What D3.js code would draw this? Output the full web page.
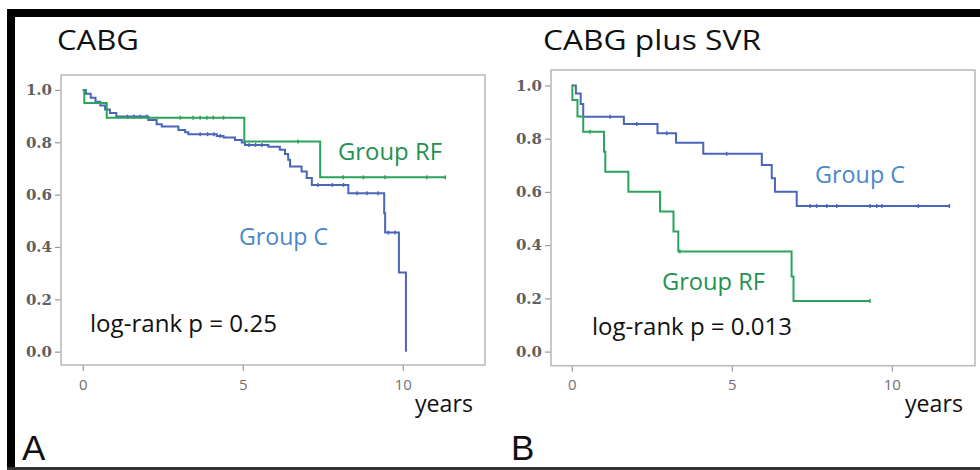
<!DOCTYPE html>
<html>
<head>
<meta charset="utf-8">
<script src="https://cdn.jsdelivr.net/npm/d3@7"></script>
<style>
  body { margin: 0; background: #fff; }
  svg { display: block; }
</style>
</head>
<body>
<svg id="chart" width="980" height="470"></svg>
<script>
// ---- data ----
const yTicks = [0, 0.2, 0.4, 0.6, 0.8, 1.0]
const xTicks = [0, 5, 10]

// panel A, CABG
const aC_time = [0, 0.1, 0.25, 0.4, 0.55, 0.7, 0.85, 1.05, 2.05, 2.31, 2.47, 2.99, 3.2, 3.3, 4.19, 4.4, 4.76, 4.97, 5.07, 5.8, 6.16, 6.32, 6.42, 6.48, 6.84, 7.0, 7.16, 8.3, 9.42, 9.45, 9.88, 10.1]
const aC_surv = [1.0, 0.985, 0.97, 0.955, 0.94, 0.925, 0.912, 0.898, 0.885, 0.869, 0.86, 0.847, 0.838, 0.831, 0.824, 0.818, 0.809, 0.799, 0.79, 0.783, 0.771, 0.755, 0.733, 0.707, 0.688, 0.663, 0.637, 0.605, 0.529, 0.455, 0.302, 0.0]
const aC_end = 10.1
const aC_censor = [1.4, 1.6, 1.8, 2.0, 3.67, 3.9, 4.1, 4.3, 5.2, 5.4, 5.6, 7.35, 7.8, 8.15, 8.57, 8.88, 9.23, 9.55, 9.76]

const aRF_time = [0, 0.05, 0.75, 5.05, 7.42]
const aRF_surv = [1.0, 0.95, 0.894, 0.803, 0.666]
const aRF_end = 11.33
const aRF_censor = [3.05, 3.45, 3.67, 3.88, 4.08, 4.4, 6.73, 8.14, 8.77, 9.45, 10.75, 11.33]

// panel B, CABG plus SVR
const bC_time = [0, 0.13, 0.28, 0.36, 1.63, 2.68, 3.26, 4.11, 5.94, 6.25, 6.35, 7.03]
const bC_surv = [1.0, 0.97, 0.93, 0.882, 0.855, 0.82, 0.785, 0.743, 0.701, 0.651, 0.601, 0.547]
const bC_end = 11.8
const bC_censor = [1.2, 2.03, 2.97, 4.84, 7.45, 7.65, 7.97, 8.28, 9.32, 9.53, 9.69, 10.83, 11.8]

const bRF_time = [0, 0.02, 0.18, 0.36, 1.01, 1.05, 1.77, 2.76, 3.18, 3.33, 6.87, 6.93]
const bRF_surv = [1.0, 0.945, 0.883, 0.826, 0.751, 0.676, 0.601, 0.526, 0.451, 0.376, 0.282, 0.19]
const bRF_end = 9.32
const bRF_censor = [0.57, 3.38, 9.32]

const blueLine = "#4a66b8"
const greenLine = "#2ba35a"
const blueText = "#4a88c8"
const greenText = "#1f9150"

const svg = d3.select("#chart")

// frame around the figure
svg.append("rect").attr("x", 7).attr("y", 9).attr("width", 973).attr("height", 8).attr("fill", "#000")
svg.append("rect").attr("x", 7).attr("y", 9).attr("width", 8).attr("height", 461).attr("fill", "#000")
svg.append("rect").attr("x", 7).attr("y", 467).attr("width", 973).attr("height", 3).attr("fill", "#333")

function fit(sel, w){
  sel.attr("textLength", w).attr("lengthAdjust", "spacingAndGlyphs")
}

function panel(p){
  const g = svg.append("g")
  const x = d3.scaleLinear().domain(p.xDomain).range([p.left, p.right])
  const y = d3.scaleLinear().domain(p.yDomain).range([p.bottom, p.top])

  // y axis
  const ya = g.append("g").attr("transform", "translate(" + p.left + ",0)")
    .call(d3.axisLeft(y).tickValues(yTicks).tickFormat(d3.format(".1f")).tickSize(6).tickPadding(3))
  ya.select(".domain").remove()
  ya.selectAll("line").attr("stroke", "#999").attr("stroke-width", 1.2)
  ya.selectAll("text").attr("fill", "#606060").style("font-family", "DejaVu Serif").style("font-size", "15px").style("font-weight", "bold")

  // x axis
  const xa = g.append("g").attr("transform", "translate(0," + p.bottom + ")")
    .call(d3.axisBottom(x).tickValues(xTicks).tickSize(6).tickPadding(8))
  xa.select(".domain").remove()
  xa.selectAll("line").attr("stroke", "#999").attr("stroke-width", 1.2)
  xa.selectAll("text").attr("fill", "#707070").style("font-family", "Open Sans").style("font-size", "15px")

  // plot box
  g.append("rect").attr("x", p.left).attr("y", p.top)
    .attr("width", p.right - p.left).attr("height", p.bottom - p.top)
    .attr("fill", "none").attr("stroke", "#bbb").attr("stroke-width", 1.6)

  const line = d3.line().x(d => x(d[0])).y(d => y(d[1])).curve(d3.curveStepAfter)

  p.series.forEach(s => {
    const pts = s.time.map((t, i) => [t, s.surv[i]])
    pts.push([s.end, s.surv[s.surv.length - 1]])
    g.append("path").datum(pts).attr("d", line)
      .attr("fill", "none").attr("stroke", s.color).attr("stroke-width", 2)

    // censor marks
    const stepAt = t => {
      let v = s.surv[0]
      s.time.forEach((tt, i) => { if (tt <= t) v = s.surv[i] })
      return v
    }
    g.selectAll(null).data(s.censor).enter().append("line")
      .attr("x1", d => x(d)).attr("x2", d => x(d))
      .attr("y1", d => y(stepAt(d)) - 2).attr("y2", d => y(stepAt(d)) + 2)
      .attr("stroke", s.color).attr("stroke-width", 1.5)
  })

  // texts
  const t1 = g.append("text").attr("x", p.titleX).attr("y", 50).text(p.title)
    .style("font-family", "Open Sans").style("font-size", "27px").attr("fill", "#111")
  fit(t1, p.titleW)

  p.labels.forEach(l => {
    const t = g.append("text").attr("x", l.x).attr("y", l.y).text(l.text)
      .style("font-family", "Open Sans").style("font-size", l.size + "px").attr("fill", l.color)
    fit(t, l.w)
  })

  g.append("text").attr("x", p.letterX).attr("y", 460).text(p.letter)
    .style("font-family", "Liberation Sans").style("font-size", "35px").attr("fill", "#111")
}

panel({
  left: 61, right: 485, top: 75, bottom: 365,
  xDomain: [-0.678, 12.57], yDomain: [-0.051, 1.057],
  title: "CABG", titleX: 57, titleW: 82, letter: "A", letterX: 22,
  series: [
    {time: aC_time, surv: aC_surv, end: aC_end, censor: aC_censor, color: blueLine},
    {time: aRF_time, surv: aRF_surv, end: aRF_end, censor: aRF_censor, color: greenLine}
  ],
  labels: [
    {text: "Group RF", x: 338, y: 160, w: 104, size: 23, color: greenText},
    {text: "Group C", x: 239, y: 245, w: 89, size: 23, color: blueText},
    {text: "log-rank p = 0.25", x: 90, y: 332, w: 187, size: 23, color: "#111"},
    {text: "years", x: 415, y: 412, w: 58, size: 23, color: "#111"}
  ]
})

panel({
  left: 551, right: 975, top: 70, bottom: 365.7,
  xDomain: [-0.647, 12.6], yDomain: [-0.053, 1.058],
  title: "CABG plus SVR", titleX: 543, titleW: 218, letter: "B", letterX: 511,
  series: [
    {time: bC_time, surv: bC_surv, end: bC_end, censor: bC_censor, color: blueLine},
    {time: bRF_time, surv: bRF_surv, end: bRF_end, censor: bRF_censor, color: greenLine}
  ],
  labels: [
    {text: "Group C", x: 815, y: 183, w: 90, size: 23, color: blueText},
    {text: "Group RF", x: 662, y: 290, w: 103, size: 23, color: greenText},
    {text: "log-rank p = 0.013", x: 592, y: 335, w: 200, size: 23, color: "#111"},
    {text: "years", x: 905, y: 412, w: 58, size: 23, color: "#111"}
  ]
})
</script>
</body>
</html>
